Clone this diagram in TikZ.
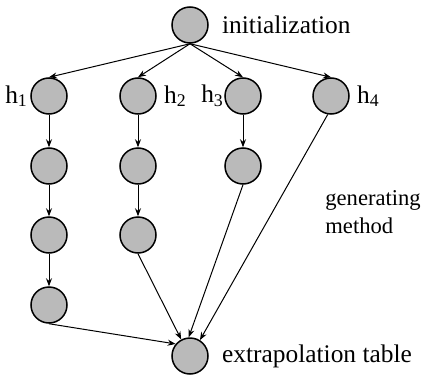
\documentclass[tikz,border=0pt]{standalone}
\usepackage{fontspec}
\setmainfont{Liberation Serif}
\usetikzlibrary{arrows.meta}

\begin{document}
\begin{tikzpicture}[x=0.5pt,y=-0.5pt,
    stage/.style={circle,draw,line width=0.75pt,fill=black!27,minimum size=18pt,inner sep=0pt},
    flow/.style={line width=0.5pt,-{Stealth[length=4pt,width=3pt]}},
    every label/.style={font=\fontsize{12.7}{15}\selectfont,inner sep=0pt},
    label distance=3.5pt]
  \useasboundingbox (0,0) rectangle (423,375);
  % start and end of the scheme
  \node[stage,label={[label distance=6.5pt]right:initialization}] (init) at (190,25) {};
  \node[stage,label={[label distance=6.5pt]right:extrapolation table}] (extr) at (190,356) {};
  % one column per step size
  \node[stage,label={[label distance=1pt]left:h\textsubscript{1}}] (h1a) at (49,96) {};
  \node[stage] (h1b) at (49,166) {};
  \node[stage] (h1c) at (49,235) {};
  \node[stage] (h1d) at (49,305) {};
  \node[stage,label=right:h\textsubscript{2}] (h2a) at (138,96) {};
  \node[stage] (h2b) at (138,166) {};
  \node[stage] (h2c) at (138,235) {};
  \node[stage,label={[label distance=0pt]left:h\textsubscript{3}}] (h3a) at (243,96) {};
  \node[stage] (h3b) at (243,166) {};
  \node[stage,label=right:h\textsubscript{4}] (h4a) at (331,96) {};
  \node[anchor=west,align=left,inner sep=0pt,font=\fontsize{11.3}{14}\selectfont] (gen) at (325,212) {generating\\method};
  % arrows
  \foreach \col in {h1a,h2a,h3a,h4a}
    \draw[flow] (init.south) -- (\col.north);
  \draw[flow] (h1a) -- (h1b);
  \draw[flow] (h1b) -- (h1c);
  \draw[flow] (h1c) -- (h1d);
  \draw[flow] (h2a) -- (h2b);
  \draw[flow] (h2b) -- (h2c);
  \draw[flow] (h3a) -- (h3b);
  \draw[flow] (h1d.south) -- (extr.140);
  \draw[flow] (h2c.south) -- (extr.118);
  \draw[flow] (h3b.south) -- (extr.94);
  \draw[flow] (h4a.-100) -- (extr.58);
\end{tikzpicture}
\end{document}
